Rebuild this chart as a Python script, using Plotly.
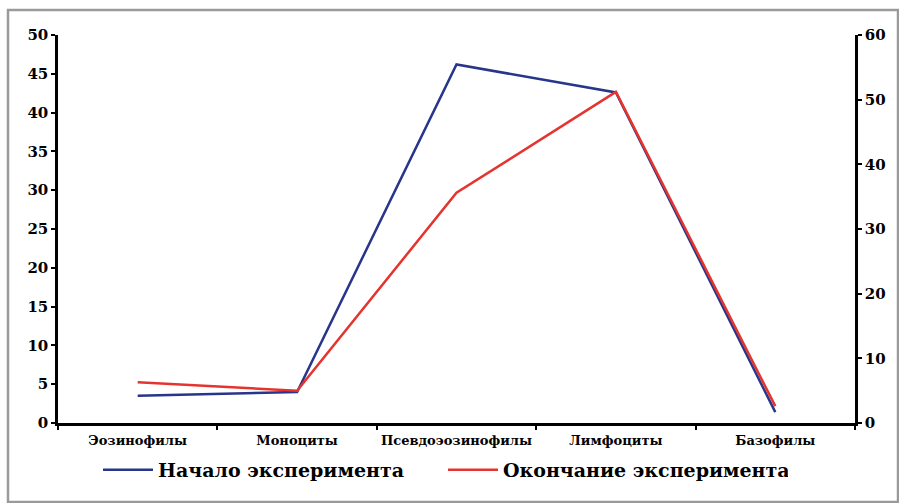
import plotly.graph_objects as go

categories = ["Эозинофилы", "Моноциты", "Псевдоэозинофилы", "Лимфоциты", "Базофилы"]
start_values = [3.5, 4.0, 46.2, 42.6, 1.4]      # left axis (0–50)
end_values = [6.3, 5.0, 35.6, 51.2, 2.6]        # right axis (0–60)
left_ticks = list(range(0, 51, 5))
right_ticks = list(range(0, 61, 10))

BLUE = "#27358a"
RED = "#e5342f"
FONT = "DejaVu Serif"

fig = go.Figure()
fig.add_trace(go.Scatter(x=categories, y=start_values, mode="lines",
                         name="Начало эксперимента",
                         line=dict(color=BLUE, width=2.5), yaxis="y"))
fig.add_trace(go.Scatter(x=categories, y=end_values, mode="lines",
                         name="Окончание эксперимента",
                         line=dict(color=RED, width=2.5), yaxis="y2"))

L, R, T, B = 58, 44, 35, 80
W, H = 899, 503
pw, ph = W - L - R, H - T - B

def px(x):
    return (x - L) / pw

def py(y):
    return (H - B - y) / ph

fig.update_layout(
    width=W, height=H,
    margin=dict(l=L, r=R, t=T, b=B, autoexpand=False),
    paper_bgcolor="white", plot_bgcolor="white",
    font=dict(family=FONT, color="black", size=14, weight="bold"),
    showlegend=True,
    legend=dict(orientation="h", x=px(443), xanchor="center", y=py(470), yanchor="middle",
                font=dict(family=FONT, size=19, weight="bold"),
                itemwidth=50, entrywidth=280, entrywidthmode="pixels"),
    xaxis=dict(type="category", range=[-0.5, 4.5], showline=True, linecolor="black",
               linewidth=2.5, ticks="outside", tickson="boundaries", ticklen=4,
               tickwidth=2, tickcolor="black", showgrid=False, zeroline=False,
               tickangle=0, automargin=False, ticklabelstandoff=4,
               tickfont=dict(family=FONT, size=13, weight="bold")),
    yaxis=dict(range=[0, 50], tickvals=left_ticks, showline=True, linecolor="black",
               linewidth=2.5, ticks="outside", ticklen=4, tickwidth=2, tickcolor="black",
               showgrid=False, zeroline=False, automargin=False,
               tickfont=dict(family=FONT, size=15, weight="bold")),
    yaxis2=dict(range=[0, 60], tickvals=right_ticks, overlaying="y", side="right",
                showline=True, linecolor="black", linewidth=2.5, ticks="outside",
                ticklen=4, tickwidth=2, tickcolor="black", showgrid=False, zeroline=False,
                automargin=False,
                tickfont=dict(family=FONT, size=15, weight="bold")),
)

fig.add_shape(type="rect", xref="paper", yref="paper",
              x0=px(8), x1=px(898), y0=py(502), y1=py(10),
              line=dict(color="#9a9a9a", width=2.5), layer="below")

fig.write_html("out.html", config={"displayModeBar": False},
               post_script="document.body.style.margin='0';document.body.style.overflow='hidden';")
